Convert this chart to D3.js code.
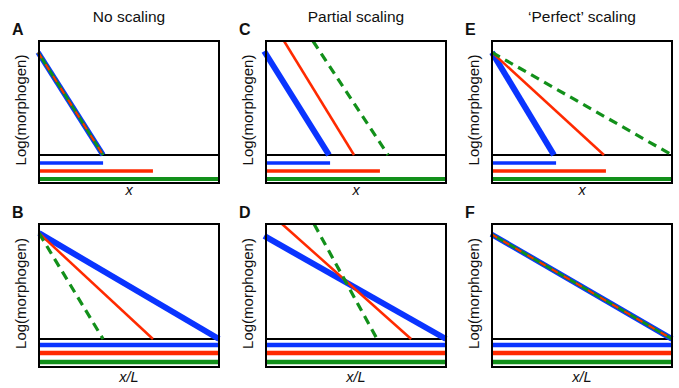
<!DOCTYPE html>
<html lang="en">
<head>
<meta charset="UTF-8">
<title>Morphogen scaling</title>
<script src="https://d3js.org/d3.v7.min.js"></script>
<style>
  body { margin: 0; background: #fff; }
  text { font-family: "Liberation Sans", Arial, sans-serif; fill: #111; }
</style>
</head>
<body>
<svg width="679" height="388"></svg>
<script>
// column titles and panel letters
const titles = ['No scaling', 'Partial scaling', '\u2018Perfect\u2019 scaling'];
const letters = ['A', 'B', 'C', 'D', 'E', 'F'];
const xLabels = ['x', 'x/L'];
const series = ['blue', 'red', 'green'];
const colors = { blue: '#0a34ff', red: '#ff2a00', green: '#12901a' };

// tissue lengths (bars), top row in x, bottom row in x/L
const barsTop = [0.356, 0.633, 1.0];
const barsBottom = [1.0, 1.0, 1.0];

// gradient lines: [x0, y0, x1, y1] per series (blue, red, green)
// y is log(morphogen), 0 = threshold line, 1 = top of box
const linesA = [[-0.005, 0.90, 0.356, 0], [-0.005, 0.90, 0.356, 0], [-0.005, 0.90, 0.356, 0]];
const linesB = [[0, 0.92, 1.0, 0], [0, 0.92, 0.633, 0], [0, 0.92, 0.356, 0]];
const linesC = [[-0.01, 0.91, 0.35, 0], [0.10, 1.0, 0.489, 0], [0.261, 1.0, 0.678, 0]];
const linesD = [[-0.01, 0.896, 1.0, 0], [0.089, 1.0, 0.806, 0], [0.267, 1.0, 0.617, 0]];
const linesE = [[0, 0.90, 0.344, 0], [0, 0.90, 0.622, 0], [0, 0.90, 1.0, 0]];
const linesF = [[-0.005, 0.913, 1.0, 0], [-0.005, 0.913, 1.0, 0], [-0.005, 0.913, 1.0, 0]];

const panelLines = [linesA, linesB, linesC, linesD, linesE, linesF];
const overlay = [true, false, false, false, false, true];

const svg = d3.select('svg');

// layout
const colLeft = [39, 266, 492];
const boxW = 180;
const rows = [
  { top: 41, bottom: 183, thr: 155, barY: [8, 16, 24], barH: [3.5, 3.5, 4], labelY: 195 },
  { top: 224, bottom: 367, thr: 339, barY: [6, 14, 23], barH: [4.5, 4.5, 4.5], labelY: 382 }
];

// column titles
titles.forEach((t, c) => {
  svg.append('text')
    .attr('x', colLeft[c] + boxW / 2)
    .attr('y', 22)
    .attr('text-anchor', 'middle')
    .attr('font-size', 15.5)
    .text(t);
});

letters.forEach((letter, i) => {
  const c = Math.floor(i / 2), r = i % 2;
  const row = rows[r];
  const left = colLeft[c];
  const g = svg.append('g');

  const x = d3.scaleLinear().domain([0, 1]).range([left, left + boxW]);
  const y = d3.scaleLinear().domain([0, 1]).range([row.thr, row.top]);

  // letter
  g.append('text')
    .attr('x', left - 27)
    .attr('y', row.top - 6)
    .attr('font-size', 16)
    .attr('font-weight', 'bold')
    .text(letter);

  // y label
  g.append('text')
    .attr('transform', `translate(${left - 13},${(row.top + row.bottom) / 2 - 2}) rotate(-90)`)
    .attr('text-anchor', 'middle')
    .attr('font-size', 15)
    .text('Log(morphogen)');

  // x label
  g.append('text')
    .attr('x', left + boxW / 2)
    .attr('y', row.labelY)
    .attr('text-anchor', 'middle')
    .attr('font-size', 14.5)
    .attr('font-style', 'italic')
    .text(xLabels[r]);

  // tissue bars
  const bars = r === 0 ? barsTop : barsBottom;
  g.selectAll('line.bar')
    .data(series)
    .join('line')
    .attr('class', 'bar')
    .attr('x1', x(0))
    .attr('x2', (d, k) => x(bars[k]))
    .attr('y1', (d, k) => row.thr + row.barY[k])
    .attr('y2', (d, k) => row.thr + row.barY[k])
    .attr('stroke', d => colors[d])
    .attr('stroke-width', (d, k) => row.barH[k]);

  // threshold line
  g.append('line')
    .attr('x1', x(0)).attr('x2', x(1))
    .attr('y1', y(0)).attr('y2', y(0))
    .attr('stroke', '#000')
    .attr('stroke-width', 2);

  // gradients
  const lines = panelLines[i];
  let order, style;
  if (overlay[i]) {
    order = [0, 2, 1];
    style = [
      { w: 5.5, dash: null },
      { w: 2, dash: '7,7' },
      { w: 3, dash: null }
    ];
  } else {
    order = [0, 1, 2];
    style = [
      { w: 6, dash: null },
      { w: 2.5, dash: null },
      { w: 3.2, dash: '9,6' }
    ];
  }
  order.forEach(k => {
    const l = lines[k];
    g.append('line')
      .attr('x1', x(l[0])).attr('y1', y(l[1]))
      .attr('x2', x(l[2])).attr('y2', y(l[3]))
      .attr('stroke', colors[series[k]])
      .attr('stroke-width', style[k].w)
      .attr('stroke-dasharray', style[k].dash);
  });

  // box
  g.append('rect')
    .attr('x', left).attr('y', row.top)
    .attr('width', boxW).attr('height', row.bottom - row.top)
    .attr('fill', 'none')
    .attr('stroke', '#000')
    .attr('stroke-width', 2);
});
</script>
</body>
</html>
